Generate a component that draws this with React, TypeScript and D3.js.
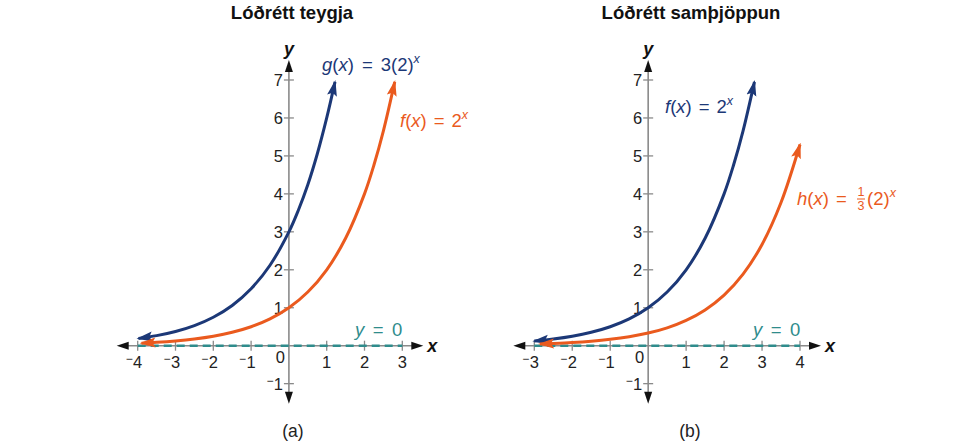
import React from "react";
import * as d3 from "d3";

// ---- data ----
const ticksX_a = [-4, -3, -2, -1, 1, 2, 3];
const ticksX_b = [-3, -2, -1, 1, 2, 3, 4];
const ticksY = [-1, 1, 2, 3, 4, 5, 6, 7];

// left panel (a)
const gX = [-3.98, -3.5, -3, -2.5, -2, -1.5, -1, -0.5, 0, 0.25, 0.5, 0.75, 1, 1.22];
const gY = [0.19, 0.265, 0.375, 0.53, 0.75, 1.06, 1.5, 2.12, 3, 3.57, 4.24, 5.05, 6, 6.95];
const fAX = [-3.9, -3.5, -3, -2.5, -2, -1.5, -1, -0.5, 0, 0.5, 1, 1.5, 2, 2.25, 2.5, 2.8];
const fAY = [0.067, 0.088, 0.125, 0.177, 0.25, 0.354, 0.5, 0.707, 1, 1.414, 2, 2.83, 4, 4.76, 5.66, 6.95];

// right panel (b)
const fBX = [-3, -2.5, -2, -1.5, -1, -0.5, 0, 0.5, 1, 1.5, 2, 2.25, 2.5, 2.8];
const fBY = [0.125, 0.177, 0.25, 0.354, 0.5, 0.707, 1, 1.414, 2, 2.83, 4, 4.76, 5.66, 6.95];
const hX = [-2.85, -2.5, -2, -1.5, -1, -0.5, 0, 0.5, 1, 1.5, 2, 2.5, 3, 3.5, 4];
const hY = [0.046, 0.059, 0.083, 0.118, 0.167, 0.236, 0.333, 0.471, 0.667, 0.943, 1.333, 1.886, 2.667, 3.771, 5.3];

const NAVY = "#1c3877";
const ORANGE = "#ea5a1e";
const TEAL = "#2f8c8c";
const GRAY = "#8a8a8a";
const FONT = "'Liberation Sans', Arial, sans-serif";

type PanelProps = {
  id: string;
  xDomain: [number, number];
  xRange: [number, number];
  ticksX: number[];
  curves: { xs: number[]; ys: number[]; color: string }[];
};

const yScale = d3.scaleLinear().domain([0, 7]).range([345.7, 80]);

function Panel({ id, xDomain, xRange, ticksX, curves }: PanelProps) {
  const x = d3.scaleLinear().domain(xDomain).range(xRange);
  const y = yScale;
  const x0 = x(0);
  const y0 = y(0);
  const left = x(xDomain[0]) - 21;
  const right = x(xDomain[1]) + 21;
  const top = y(7) - 20;
  const bottom = y(-1) + 20;
  const line = d3
    .line<[number, number]>()
    .x((d) => x(d[0]))
    .y((d) => y(d[1]))
    .curve(d3.curveCatmullRom.alpha(0.5));

  return (
    <g>
      {/* axes */}
      <line x1={left + 6} x2={right - 6} y1={y0} y2={y0} stroke={GRAY} strokeWidth={1.6} />
      <line x1={x0} x2={x0} y1={top + 6} y2={bottom - 6} stroke={GRAY} strokeWidth={1.6} />
      <polygon points={`${right},${y0} ${right - 12},${y0 - 4} ${right - 12},${y0 + 4}`} fill="#111" />
      <polygon points={`${left},${y0} ${left + 12},${y0 - 4} ${left + 12},${y0 + 4}`} fill="#111" />
      <polygon points={`${x0},${top} ${x0 - 4},${top + 12} ${x0 + 4},${top + 12}`} fill="#111" />
      <polygon points={`${x0},${bottom} ${x0 - 4},${bottom - 12} ${x0 + 4},${bottom - 12}`} fill="#111" />
      {/* x ticks */}
      {ticksX.map((t) => (
        <g key={"xt" + t}>
          <line x1={x(t)} x2={x(t)} y1={y0 - 5} y2={y0 + 5} stroke={GRAY} strokeWidth={1.3} />
          <text x={x(t)} y={y0 + 22} textAnchor="middle" fontSize={16.5} fill="#222" fontFamily={FONT}>
            {Math.abs(t)}
          </text>
          {t < 0 && (
            <text x={x(t) - 5} y={y0 + 17} textAnchor="end" fontSize={12} fill="#222" fontFamily={FONT}>
              −
            </text>
          )}
        </g>
      ))}
      <text x={x0 - 4} y={y0 + 17} textAnchor="end" fontSize={16.5} fill="#222" fontFamily={FONT}>
        0
      </text>
      {/* y ticks */}
      {ticksY.map((t) => (
        <g key={"yt" + t}>
          <line x1={x0 - 5} x2={x0 + 5} y1={y(t)} y2={y(t)} stroke={GRAY} strokeWidth={1.3} />
          <text x={x0 - 6} y={y(t) + 6} textAnchor="end" fontSize={16.5} fill="#222" fontFamily={FONT}>
            {Math.abs(t)}
          </text>
          {t < 0 && (
            <text x={x0 - 15.5} y={y(t) + 1} textAnchor="end" fontSize={12} fill="#222" fontFamily={FONT}>
              −
            </text>
          )}
        </g>
      ))}
      <text x={right + 4} y={y0 + 6} fontSize={18} fontWeight="bold" fontStyle="italic" fill="#111" fontFamily={FONT}>
        x
      </text>
      <text x={x0} y={top - 5} textAnchor="middle" fontSize={18} fontWeight="bold" fontStyle="italic" fill="#111" fontFamily={FONT}>
        y
      </text>
      {/* asymptote y = 0 */}
      <line
        x1={x(xDomain[0])}
        x2={x(xDomain[1])}
        y1={y0}
        y2={y0}
        stroke={TEAL}
        strokeWidth={2.6}
        strokeDasharray="8,5"
      />
      {/* curves */}
      {curves.map((c, i) => {
        const pts = c.xs.map((v, k) => [v, c.ys[k]] as [number, number]);
        return (
          <path
            key={i}
            d={line(pts) || ""}
            fill="none"
            stroke={c.color}
            strokeWidth={3}
            markerStart={`url(#${id}-s${i})`}
            markerEnd={`url(#${id}-e${i})`}
          />
        );
      })}
      <defs>
        {curves.map((c, i) => (
          <React.Fragment key={"m" + i}>
            <marker
              id={`${id}-e${i}`}
              markerUnits="userSpaceOnUse"
              markerWidth={16}
              markerHeight={12}
              refX={14}
              refY={6}
              orient="auto"
              viewBox="0 0 16 12"
            >
              <path d="M0,1 L16,6 L0,11 L3,6 Z" fill={c.color} />
            </marker>
            <marker
              id={`${id}-s${i}`}
              markerUnits="userSpaceOnUse"
              markerWidth={16}
              markerHeight={12}
              refX={14}
              refY={6}
              orient="auto-start-reverse"
              viewBox="0 0 16 12"
            >
              <path d="M0,1 L16,6 L0,11 L3,6 Z" fill={c.color} />
            </marker>
          </React.Fragment>
        ))}
      </defs>
    </g>
  );
}

export default function App() {
  const tProps = { fontFamily: FONT, fontSize: 18.5 };
  const sup = { fontStyle: "italic", fontSize: 12.5, dy: -8 } as const;
  return (
    <svg
      width={975}
      height={445}
      viewBox="0 0 975 445"
      style={{ position: "absolute", left: 0, top: 0, background: "#fff" }}
    >
      <text x={292} y={19} textAnchor="middle" fontFamily={FONT} fontSize={18.5} fontWeight="bold" fill="#111">
        Lóðrétt teygja
      </text>
      <text x={691} y={19} textAnchor="middle" fontFamily={FONT} fontSize={18.5} fontWeight="bold" fill="#111">
        Lóðrétt samþjöppun
      </text>

      <Panel
        id="a"
        xDomain={[-4, 3]}
        xRange={[137.7, 402.3]}
        ticksX={ticksX_a}
        curves={[
          { xs: gX, ys: gY, color: NAVY },
          { xs: fAX, ys: fAY, color: ORANGE },
        ]}
      />
      <Panel
        id="b"
        xDomain={[-3, 4]}
        xRange={[534.3, 800]}
        ticksX={ticksX_b}
        curves={[
          { xs: fBX, ys: fBY, color: NAVY },
          { xs: hX, ys: hY, color: ORANGE },
        ]}
      />

      {/* function labels, panel a */}
      <text x={322} y={71} fill={NAVY} {...tProps}>
        <tspan fontStyle="italic">g</tspan>(<tspan fontStyle="italic">x</tspan>)
        <tspan dx={8}>=</tspan>
        <tspan dx={8}>3(2)</tspan>
        <tspan {...sup}>x</tspan>
      </text>
      <text x={400} y={127} fill={ORANGE} {...tProps}>
        <tspan fontStyle="italic">f</tspan>(<tspan fontStyle="italic">x</tspan>)
        <tspan dx={7}>=</tspan>
        <tspan dx={7}>2</tspan>
        <tspan {...sup}>x</tspan>
      </text>
      <text x={355} y={336} fill={TEAL} {...tProps}>
        <tspan fontStyle="italic">y</tspan>
        <tspan dx={8.5}>=</tspan>
        <tspan dx={8.5}>0</tspan>
      </text>

      {/* function labels, panel b */}
      <text x={665} y={113} fill={NAVY} {...tProps}>
        <tspan fontStyle="italic">f</tspan>(<tspan fontStyle="italic">x</tspan>)
        <tspan dx={7}>=</tspan>
        <tspan dx={7}>2</tspan>
        <tspan {...sup}>x</tspan>
      </text>
      <text x={797} y={205} fill={ORANGE} {...tProps}>
        <tspan fontStyle="italic">h</tspan>(<tspan fontStyle="italic">x</tspan>)
        <tspan dx={7}>=</tspan>
      </text>
      <text x={861} y={196} fill={ORANGE} fontFamily={FONT} fontSize={12.5} textAnchor="middle">
        1
      </text>
      <line x1={857} x2={865} y1={199} y2={199} stroke={ORANGE} strokeWidth={1} />
      <text x={861} y={210} fill={ORANGE} fontFamily={FONT} fontSize={12.5} textAnchor="middle">
        3
      </text>
      <text x={867} y={205} fill={ORANGE} {...tProps}>
        (2)<tspan {...sup}>x</tspan>
      </text>
      <text x={753} y={336} fill={TEAL} {...tProps}>
        <tspan fontStyle="italic">y</tspan>
        <tspan dx={8.5}>=</tspan>
        <tspan dx={8.5}>0</tspan>
      </text>

      <text x={293} y={437} textAnchor="middle" fontFamily={FONT} fontSize={17.5} fill="#222">
        (a)
      </text>
      <text x={690} y={437} textAnchor="middle" fontFamily={FONT} fontSize={17.5} fill="#222">
        (b)
      </text>
    </svg>
  );
}
